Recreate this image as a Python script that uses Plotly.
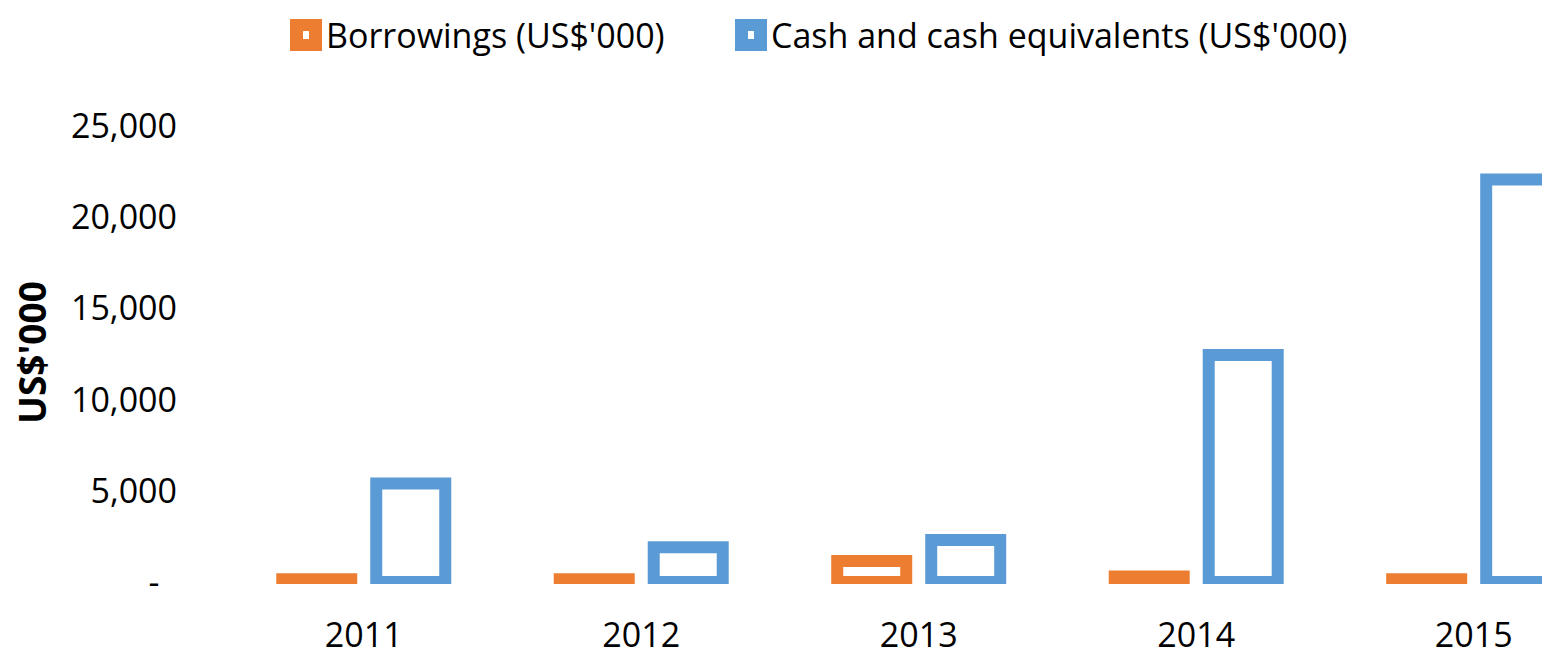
import plotly.graph_objects as go

years = ["2011", "2012", "2013", "2014", "2015"]
borrowings = [150, 150, 1150, 300, 150]
cash = [5400, 1900, 2300, 12450, 22070]

y_tickvals = [0, 5000, 10000, 15000, 20000, 25000]
y_ticktext = ["-\u00a0\u00a0", "5,000", "10,000", "15,000", "20,000", "25,000"]

ORANGE = "#ED7D31"
BLUE = "#5B9BD5"
FONT = "Open Sans, sans-serif"
FS = 34

# page has an 8px body margin; the figure is sized so it fills the window exactly
OFF = 8
W, H = 1550 - OFF, 653 - OFF
L, R, T, B = 225 - OFF, 0, 126 - OFF, 69

fig = go.Figure()
fig.add_trace(go.Bar(x=years, y=borrowings, name="Borrowings (US$'000)",
                     marker=dict(color="white", line=dict(color=ORANGE, width=12))))
fig.add_trace(go.Bar(x=years, y=cash, name="Cash and cash equivalents (US$'000)",
                     marker=dict(color="white", line=dict(color=BLUE, width=12))))

pw = W - L - R
ph = H - T - B


def px(x):
    return (x - OFF - L) / pw


def py(y):
    return (H - B - (y - OFF)) / ph


shapes = []
annotations = []
legend_items = [(290, "Borrowings (US$'000)", ORANGE), (735, "Cash and cash equivalents (US$'000)", BLUE)]
for x0, label, col in legend_items:
    shapes.append(dict(type="rect", xref="paper", yref="paper",
                       x0=px(x0), x1=px(x0 + 32), y0=py(51), y1=py(19),
                       fillcolor=col, line=dict(width=0)))
    shapes.append(dict(type="rect", xref="paper", yref="paper",
                       x0=px(x0 + 13), x1=px(x0 + 19), y0=py(39), y1=py(31),
                       fillcolor="white", line=dict(width=0)))
    annotations.append(dict(text=label, xref="paper", yref="paper",
                            x=px(x0 + 34), y=py(35), xanchor="left", yanchor="middle",
                            showarrow=False, font=dict(family=FONT, size=FS, color="black")))

annotations.append(dict(text="<b>US$'000</b>", xref="paper", yref="paper",
                        x=px(31), y=py(353), xanchor="center", yanchor="middle",
                        textangle=-90, showarrow=False,
                        font=dict(family=FONT, size=37, color="black")))

fig.update_layout(
    width=W, height=H,
    margin=dict(l=L, r=R, t=T, b=B, pad=0),
    paper_bgcolor="white", plot_bgcolor="white",
    showlegend=False,
    barmode="group", bargap=0.3225, bargroupgap=0.266,
    font=dict(family=FONT, size=FS, color="black"),
    shapes=shapes, annotations=annotations,
)
fig.update_xaxes(range=[-0.5, 4.275], showline=False, showgrid=False, zeroline=False,
                 ticks="", ticklabelstandoff=28, automargin=False,
                 tickfont=dict(family=FONT, size=FS, color="black"))
fig.update_yaxes(range=[-110, 25000], showline=False, showgrid=False, zeroline=False,
                 tickvals=y_tickvals, ticktext=y_ticktext, ticks="", ticklabelstandoff=47,
                 automargin=False,
                 tickfont=dict(family=FONT, size=FS, color="black"))

fig.write_html("out.html")
